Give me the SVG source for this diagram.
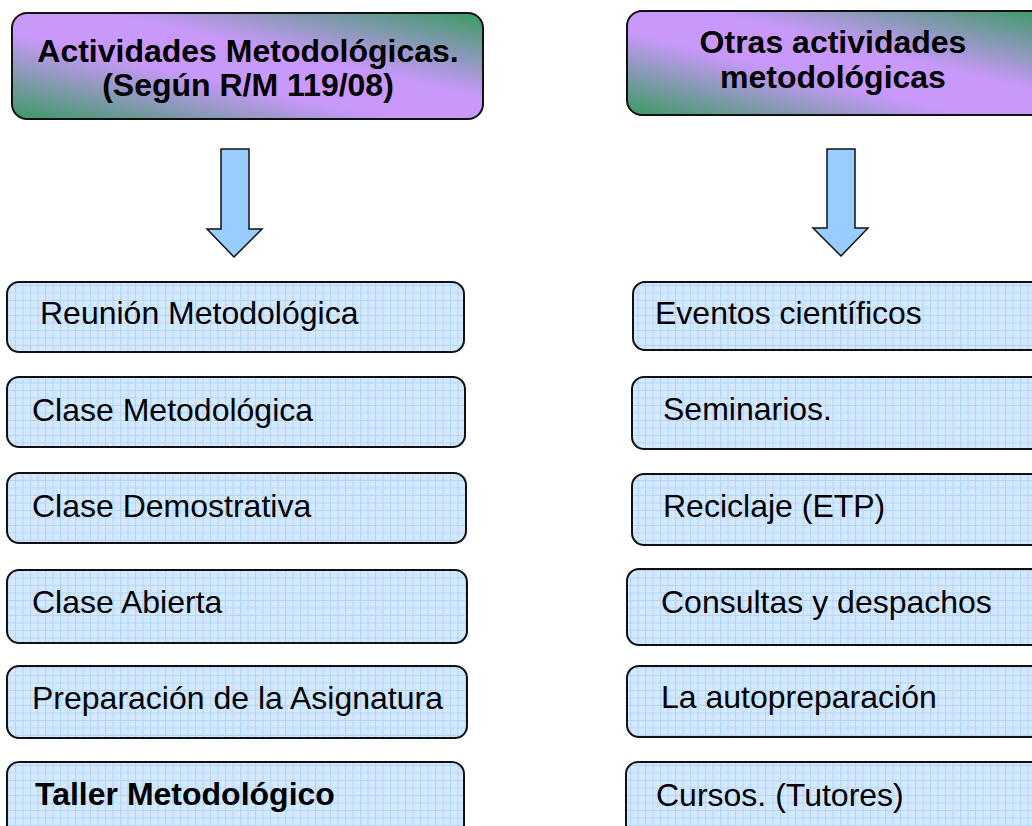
<svg xmlns="http://www.w3.org/2000/svg" width="1032" height="826" viewBox="0 0 1032 826">
  <defs>
    <linearGradient id="hdr" x1="0" y1="1" x2="1" y2="0">
      <stop offset="0" stop-color="#3a9a62"/>
      <stop offset="0.4" stop-color="#c898fa"/>
      <stop offset="0.6" stop-color="#c898fa"/>
      <stop offset="1" stop-color="#3a9a62"/>
    </linearGradient>
    <pattern id="grid" width="7.5" height="7.5" patternUnits="userSpaceOnUse">
      <rect width="7.5" height="7.5" fill="#d4e9ff"/>
      <path d="M0 0.5 H7.5 M0.5 0 V7.5" stroke="#b2d5f8" stroke-width="1" fill="none"/>
      <rect x="3" y="3" width="1" height="1" fill="#c4e0fc"/>
      <rect x="5" y="2" width="1" height="1" fill="#e6f2ff"/>
    </pattern>
    <style>
      .hdr { fill: url(#hdr); stroke: #111; stroke-width: 2; }
      .box { fill: url(#grid); stroke: #111; stroke-width: 2; }
      .arr { fill: #99ccff; stroke: #111; stroke-width: 1.5; stroke-linejoin: miter; }
      .t { font-family: "Liberation Sans", Arial, sans-serif; font-size: 32px; fill: #000; }
      .b { font-weight: bold; }
    </style>
  </defs>

  <g id="header-left">
    <rect class="hdr" x="12" y="13" width="471" height="106" rx="15"/>
    <text class="t b" x="248" y="62" text-anchor="middle">Actividades Metodológicas.</text>
    <text class="t b" x="248" y="96" text-anchor="middle">(Según R/M 119/08)</text>
  </g>
  <g id="header-right">
    <rect class="hdr" x="627" y="11" width="420" height="104" rx="15"/>
    <text class="t b" x="833" y="53" text-anchor="middle">Otras actividades</text>
    <text class="t b" x="833" y="88" text-anchor="middle">metodológicas</text>
  </g>

  <g id="connectors">
    <path class="arr" d="M221 149 H249 V229 H262 L234 257 L207 229 H221 Z"/>
    <path class="arr" d="M827 149 H855 V228 H868 L841 256 L813 228 H827 Z"/>
  </g>

  <g id="l1"><rect class="box" x="7" y="282" width="457" height="70" rx="12"/><text class="t" x="40" y="324">Reunión Metodológica</text></g>
  <g id="l2"><rect class="box" x="7" y="377" width="458" height="70" rx="12"/><text class="t" x="32" y="421">Clase Metodológica</text></g>
  <g id="l3"><rect class="box" x="7" y="473" width="459" height="70" rx="12"/><text class="t" x="32" y="517">Clase Demostrativa</text></g>
  <g id="l4"><rect class="box" x="7" y="570" width="460" height="73" rx="12"/><text class="t" x="32" y="613">Clase Abierta</text></g>
  <g id="l5"><rect class="box" x="7" y="666" width="460" height="72" rx="12"/><text class="t" x="32" y="709">Preparación de la Asignatura</text></g>
  <g id="l6"><rect class="box" x="7" y="762" width="457" height="90" rx="12"/><text class="t b" x="35" y="805">Taller Metodológico</text></g>

  <g id="r1"><rect class="box" x="633" y="282" width="420" height="68" rx="12"/><text class="t" x="655" y="324">Eventos científicos</text></g>
  <g id="r2"><rect class="box" x="632" y="377" width="420" height="72" rx="12"/><text class="t" x="663" y="420">Seminarios.</text></g>
  <g id="r3"><rect class="box" x="632" y="474" width="420" height="71" rx="12"/><text class="t" x="663" y="517">Reciclaje (ETP)</text></g>
  <g id="r4"><rect class="box" x="627" y="569" width="425" height="76" rx="12"/><text class="t" x="661" y="613">Consultas y despachos</text></g>
  <g id="r5"><rect class="box" x="627" y="666" width="425" height="71" rx="12"/><text class="t" x="661" y="708">La autopreparación</text></g>
  <g id="r6"><rect class="box" x="626" y="762" width="426" height="90" rx="12"/><text class="t" x="656" y="806">Cursos. (Tutores)</text></g>
</svg>
